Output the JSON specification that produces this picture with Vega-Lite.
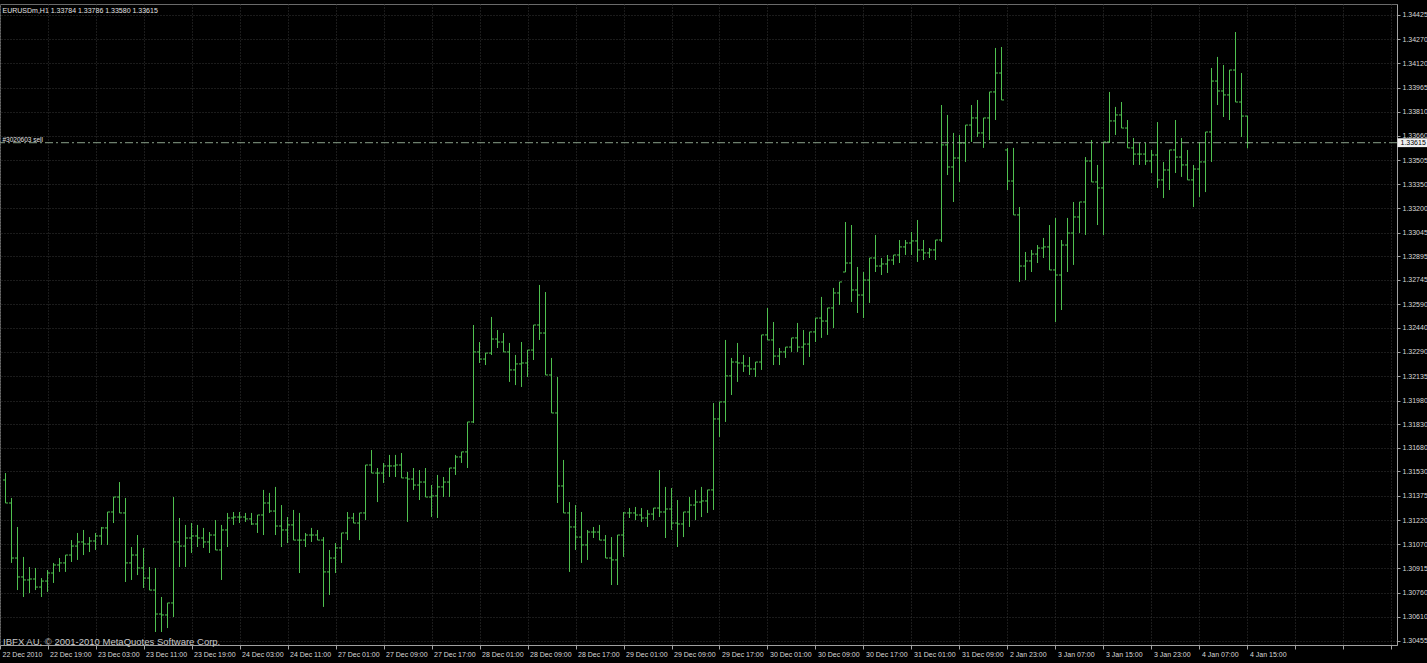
{
  "$schema": "https://vega.github.io/schema/vega-lite/v6.json",
  "width": 1397,
  "height": 641,
  "autosize": {"type": "none"},
  "padding": {"left": 0, "top": 4, "right": 30, "bottom": 18},
  "background": "#000000",
  "config": {
    "view": {"stroke": "#6a6a6a", "strokeWidth": 1},
    "axis": {
      "labelFont": "Liberation Sans",
      "labelFontSize": 7,
      "labelColor": "#d8d8d8",
      "domainColor": "#a0a0a0",
      "tickColor": "#a0a0a0",
      "gridColor": "#363636",
      "gridDash": [1, 2],
      "title": null
    }
  },
  "data": {
    "values": [
      {"i":0,"o":1.31476,"h":1.31520,"l":1.31330,"c":1.31330},
      {"i":1,"o":1.31330,"h":1.31362,"l":1.30950,"c":1.30981},
      {"i":2,"o":1.30981,"h":1.31178,"l":1.30778,"c":1.30861},
      {"i":3,"o":1.30861,"h":1.30988,"l":1.30734,"c":1.30842},
      {"i":4,"o":1.30842,"h":1.30924,"l":1.30759,"c":1.30848},
      {"i":5,"o":1.30848,"h":1.30918,"l":1.30778,"c":1.30797},
      {"i":6,"o":1.30797,"h":1.30854,"l":1.30734,"c":1.30835},
      {"i":7,"o":1.30835,"h":1.30905,"l":1.30766,"c":1.30886},
      {"i":8,"o":1.30886,"h":1.30950,"l":1.30823,"c":1.30937},
      {"i":9,"o":1.30937,"h":1.30981,"l":1.30893,"c":1.30950},
      {"i":10,"o":1.30950,"h":1.31000,"l":1.30893,"c":1.31000},
      {"i":11,"o":1.31000,"h":1.31095,"l":1.30956,"c":1.31057},
      {"i":12,"o":1.31057,"h":1.31140,"l":1.30969,"c":1.31083},
      {"i":13,"o":1.31083,"h":1.31159,"l":1.31000,"c":1.31070},
      {"i":14,"o":1.31070,"h":1.31114,"l":1.31019,"c":1.31089},
      {"i":15,"o":1.31089,"h":1.31140,"l":1.31032,"c":1.31121},
      {"i":16,"o":1.31121,"h":1.31178,"l":1.31064,"c":1.31172},
      {"i":17,"o":1.31172,"h":1.31273,"l":1.31064,"c":1.31273},
      {"i":18,"o":1.31273,"h":1.31368,"l":1.31203,"c":1.31368},
      {"i":19,"o":1.31368,"h":1.31463,"l":1.31267,"c":1.31267},
      {"i":20,"o":1.31267,"h":1.31362,"l":1.30829,"c":1.30950},
      {"i":21,"o":1.30950,"h":1.31051,"l":1.30842,"c":1.31000},
      {"i":22,"o":1.31000,"h":1.31127,"l":1.30873,"c":1.30918},
      {"i":23,"o":1.30918,"h":1.31045,"l":1.30791,"c":1.30854},
      {"i":24,"o":1.30854,"h":1.30924,"l":1.30778,"c":1.30778},
      {"i":25,"o":1.30778,"h":1.30918,"l":1.30512,"c":1.30626},
      {"i":26,"o":1.30626,"h":1.30734,"l":1.30512,"c":1.30620},
      {"i":27,"o":1.30620,"h":1.30696,"l":1.30537,"c":1.30696},
      {"i":28,"o":1.30696,"h":1.31368,"l":1.30607,"c":1.31083},
      {"i":29,"o":1.31083,"h":1.31235,"l":1.30924,"c":1.31057},
      {"i":30,"o":1.31057,"h":1.31191,"l":1.30924,"c":1.31108},
      {"i":31,"o":1.31108,"h":1.31203,"l":1.31013,"c":1.31121},
      {"i":32,"o":1.31121,"h":1.31191,"l":1.31051,"c":1.31108},
      {"i":33,"o":1.31108,"h":1.31172,"l":1.31045,"c":1.31083},
      {"i":34,"o":1.31083,"h":1.31146,"l":1.31013,"c":1.31127},
      {"i":35,"o":1.31127,"h":1.31222,"l":1.31032,"c":1.31032},
      {"i":36,"o":1.31032,"h":1.31191,"l":1.30842,"c":1.31159},
      {"i":37,"o":1.31159,"h":1.31267,"l":1.31051,"c":1.31235},
      {"i":38,"o":1.31235,"h":1.31273,"l":1.31191,"c":1.31241},
      {"i":39,"o":1.31241,"h":1.31273,"l":1.31203,"c":1.31241},
      {"i":40,"o":1.31241,"h":1.31267,"l":1.31210,"c":1.31229},
      {"i":41,"o":1.31229,"h":1.31267,"l":1.31191,"c":1.31197},
      {"i":42,"o":1.31197,"h":1.31254,"l":1.31140,"c":1.31254},
      {"i":43,"o":1.31254,"h":1.31413,"l":1.31127,"c":1.31330},
      {"i":44,"o":1.31330,"h":1.31394,"l":1.31267,"c":1.31279},
      {"i":45,"o":1.31279,"h":1.31432,"l":1.31127,"c":1.31184},
      {"i":46,"o":1.31184,"h":1.31317,"l":1.31051,"c":1.31159},
      {"i":47,"o":1.31159,"h":1.31241,"l":1.31076,"c":1.31191},
      {"i":48,"o":1.31191,"h":1.31286,"l":1.31095,"c":1.31095},
      {"i":49,"o":1.31095,"h":1.31267,"l":1.30886,"c":1.31095},
      {"i":50,"o":1.31095,"h":1.31140,"l":1.31051,"c":1.31127},
      {"i":51,"o":1.31127,"h":1.31172,"l":1.31083,"c":1.31127},
      {"i":52,"o":1.31127,"h":1.31159,"l":1.31095,"c":1.31095},
      {"i":53,"o":1.31095,"h":1.31114,"l":1.30671,"c":1.30893},
      {"i":54,"o":1.30893,"h":1.31032,"l":1.30747,"c":1.30981},
      {"i":55,"o":1.30981,"h":1.31076,"l":1.30886,"c":1.31045},
      {"i":56,"o":1.31045,"h":1.31140,"l":1.30950,"c":1.31140},
      {"i":57,"o":1.31140,"h":1.31273,"l":1.31095,"c":1.31235},
      {"i":58,"o":1.31235,"h":1.31267,"l":1.31203,"c":1.31203},
      {"i":59,"o":1.31203,"h":1.31267,"l":1.31095,"c":1.31267},
      {"i":60,"o":1.31267,"h":1.31571,"l":1.31222,"c":1.31571},
      {"i":61,"o":1.31571,"h":1.31666,"l":1.31520,"c":1.31520},
      {"i":62,"o":1.31520,"h":1.31552,"l":1.31336,"c":1.31520},
      {"i":63,"o":1.31520,"h":1.31584,"l":1.31457,"c":1.31565},
      {"i":64,"o":1.31565,"h":1.31635,"l":1.31495,"c":1.31565},
      {"i":65,"o":1.31565,"h":1.31635,"l":1.31495,"c":1.31571},
      {"i":66,"o":1.31571,"h":1.31647,"l":1.31489,"c":1.31489},
      {"i":67,"o":1.31489,"h":1.31527,"l":1.31210,"c":1.31482},
      {"i":68,"o":1.31482,"h":1.31552,"l":1.31413,"c":1.31444},
      {"i":69,"o":1.31444,"h":1.31539,"l":1.31349,"c":1.31463},
      {"i":70,"o":1.31463,"h":1.31552,"l":1.31368,"c":1.31368},
      {"i":71,"o":1.31368,"h":1.31444,"l":1.31241,"c":1.31375},
      {"i":72,"o":1.31375,"h":1.31508,"l":1.31235,"c":1.31432},
      {"i":73,"o":1.31432,"h":1.31495,"l":1.31368,"c":1.31463},
      {"i":74,"o":1.31463,"h":1.31552,"l":1.31368,"c":1.31552},
      {"i":75,"o":1.31552,"h":1.31635,"l":1.31508,"c":1.31622},
      {"i":76,"o":1.31622,"h":1.31654,"l":1.31584,"c":1.31654},
      {"i":77,"o":1.31654,"h":1.31844,"l":1.31552,"c":1.31844},
      {"i":78,"o":1.31844,"h":1.32459,"l":1.31837,"c":1.32288},
      {"i":79,"o":1.32288,"h":1.32351,"l":1.32218,"c":1.32243},
      {"i":80,"o":1.32243,"h":1.32281,"l":1.32205,"c":1.32281},
      {"i":81,"o":1.32281,"h":1.32510,"l":1.32269,"c":1.32370},
      {"i":82,"o":1.32370,"h":1.32427,"l":1.32313,"c":1.32351},
      {"i":83,"o":1.32351,"h":1.32408,"l":1.32288,"c":1.32288},
      {"i":84,"o":1.32288,"h":1.32345,"l":1.32098,"c":1.32174},
      {"i":85,"o":1.32174,"h":1.32269,"l":1.32078,"c":1.32212},
      {"i":86,"o":1.32212,"h":1.32351,"l":1.32066,"c":1.32218},
      {"i":87,"o":1.32218,"h":1.32300,"l":1.32129,"c":1.32300},
      {"i":88,"o":1.32300,"h":1.32459,"l":1.32237,"c":1.32459},
      {"i":89,"o":1.32459,"h":1.32713,"l":1.32364,"c":1.32408},
      {"i":90,"o":1.32408,"h":1.32668,"l":1.32142,"c":1.32142},
      {"i":91,"o":1.32142,"h":1.32250,"l":1.31901,"c":1.31901},
      {"i":92,"o":1.31901,"h":1.32129,"l":1.31330,"c":1.31438},
      {"i":93,"o":1.31438,"h":1.31603,"l":1.31267,"c":1.31267},
      {"i":94,"o":1.31267,"h":1.31336,"l":1.30893,"c":1.31178},
      {"i":95,"o":1.31178,"h":1.31317,"l":1.31032,"c":1.31114},
      {"i":96,"o":1.31114,"h":1.31273,"l":1.30950,"c":1.31064},
      {"i":97,"o":1.31064,"h":1.31159,"l":1.30969,"c":1.31146},
      {"i":98,"o":1.31146,"h":1.31178,"l":1.31108,"c":1.31146},
      {"i":99,"o":1.31146,"h":1.31191,"l":1.31095,"c":1.31095},
      {"i":100,"o":1.31095,"h":1.31127,"l":1.30981,"c":1.30981},
      {"i":101,"o":1.30981,"h":1.31114,"l":1.30810,"c":1.30969},
      {"i":102,"o":1.30969,"h":1.31127,"l":1.30810,"c":1.31127},
      {"i":103,"o":1.31127,"h":1.31273,"l":1.30988,"c":1.31267},
      {"i":104,"o":1.31267,"h":1.31298,"l":1.31235,"c":1.31267},
      {"i":105,"o":1.31267,"h":1.31305,"l":1.31222,"c":1.31254},
      {"i":106,"o":1.31254,"h":1.31298,"l":1.31210,"c":1.31235},
      {"i":107,"o":1.31235,"h":1.31286,"l":1.31178,"c":1.31260},
      {"i":108,"o":1.31260,"h":1.31298,"l":1.31222,"c":1.31298},
      {"i":109,"o":1.31298,"h":1.31539,"l":1.31241,"c":1.31273},
      {"i":110,"o":1.31273,"h":1.31432,"l":1.31108,"c":1.31292},
      {"i":111,"o":1.31292,"h":1.31425,"l":1.31159,"c":1.31203},
      {"i":112,"o":1.31203,"h":1.31349,"l":1.31051,"c":1.31197},
      {"i":113,"o":1.31197,"h":1.31273,"l":1.31114,"c":1.31273},
      {"i":114,"o":1.31273,"h":1.31368,"l":1.31178,"c":1.31317},
      {"i":115,"o":1.31317,"h":1.31413,"l":1.31222,"c":1.31336},
      {"i":116,"o":1.31336,"h":1.31432,"l":1.31241,"c":1.31343},
      {"i":117,"o":1.31343,"h":1.31413,"l":1.31267,"c":1.31413},
      {"i":118,"o":1.31413,"h":1.31964,"l":1.31286,"c":1.31863},
      {"i":119,"o":1.31863,"h":1.31971,"l":1.31749,"c":1.31971},
      {"i":120,"o":1.31971,"h":1.32364,"l":1.31844,"c":1.32136},
      {"i":121,"o":1.32136,"h":1.32250,"l":1.32015,"c":1.32224},
      {"i":122,"o":1.32224,"h":1.32345,"l":1.32098,"c":1.32218},
      {"i":123,"o":1.32218,"h":1.32269,"l":1.32161,"c":1.32199},
      {"i":124,"o":1.32199,"h":1.32256,"l":1.32142,"c":1.32180},
      {"i":125,"o":1.32180,"h":1.32224,"l":1.32129,"c":1.32224},
      {"i":126,"o":1.32224,"h":1.32396,"l":1.32174,"c":1.32396},
      {"i":127,"o":1.32396,"h":1.32567,"l":1.32364,"c":1.32364},
      {"i":128,"o":1.32364,"h":1.32478,"l":1.32205,"c":1.32262},
      {"i":129,"o":1.32262,"h":1.32313,"l":1.32205,"c":1.32288},
      {"i":130,"o":1.32288,"h":1.32319,"l":1.32250,"c":1.32319},
      {"i":131,"o":1.32319,"h":1.32377,"l":1.32288,"c":1.32377},
      {"i":132,"o":1.32377,"h":1.32472,"l":1.32288,"c":1.32319},
      {"i":133,"o":1.32319,"h":1.32427,"l":1.32205,"c":1.32338},
      {"i":134,"o":1.32338,"h":1.32415,"l":1.32256,"c":1.32415},
      {"i":135,"o":1.32415,"h":1.32503,"l":1.32351,"c":1.32503},
      {"i":136,"o":1.32503,"h":1.32637,"l":1.32377,"c":1.32484},
      {"i":137,"o":1.32484,"h":1.32567,"l":1.32396,"c":1.32567},
      {"i":138,"o":1.32567,"h":1.32694,"l":1.32440,"c":1.32662},
      {"i":139,"o":1.32662,"h":1.32732,"l":1.32586,"c":1.32732},
      {"i":140,"o":1.32795,"h":1.33112,"l":1.32795,"c":1.32852},
      {"i":141,"o":1.32852,"h":1.33093,"l":1.32605,"c":1.32681},
      {"i":142,"o":1.32681,"h":1.32827,"l":1.32535,"c":1.32649},
      {"i":143,"o":1.32649,"h":1.32795,"l":1.32503,"c":1.32744},
      {"i":144,"o":1.32744,"h":1.32884,"l":1.32599,"c":1.32884},
      {"i":145,"o":1.32884,"h":1.33030,"l":1.32795,"c":1.32833},
      {"i":146,"o":1.32833,"h":1.32884,"l":1.32776,"c":1.32846},
      {"i":147,"o":1.32846,"h":1.32903,"l":1.32789,"c":1.32871},
      {"i":148,"o":1.32871,"h":1.32903,"l":1.32840,"c":1.32903},
      {"i":149,"o":1.32903,"h":1.32998,"l":1.32852,"c":1.32954},
      {"i":150,"o":1.32954,"h":1.32998,"l":1.32903,"c":1.32979},
      {"i":151,"o":1.32979,"h":1.33049,"l":1.32903,"c":1.32992},
      {"i":152,"o":1.32992,"h":1.33125,"l":1.32859,"c":1.32935},
      {"i":153,"o":1.32935,"h":1.32998,"l":1.32871,"c":1.32916},
      {"i":154,"o":1.32916,"h":1.32947,"l":1.32884,"c":1.32935},
      {"i":155,"o":1.32935,"h":1.32998,"l":1.32871,"c":1.32998},
      {"i":156,"o":1.32998,"h":1.33854,"l":1.32985,"c":1.33601},
      {"i":157,"o":1.33601,"h":1.33791,"l":1.33410,"c":1.33461},
      {"i":158,"o":1.33461,"h":1.33677,"l":1.33239,"c":1.33518},
      {"i":159,"o":1.33518,"h":1.33664,"l":1.33366,"c":1.33613},
      {"i":160,"o":1.33613,"h":1.33727,"l":1.33493,"c":1.33727},
      {"i":161,"o":1.33727,"h":1.33854,"l":1.33620,"c":1.33772},
      {"i":162,"o":1.33772,"h":1.33886,"l":1.33651,"c":1.33677},
      {"i":163,"o":1.33677,"h":1.33772,"l":1.33582,"c":1.33772},
      {"i":164,"o":1.33772,"h":1.33937,"l":1.33632,"c":1.33937},
      {"i":165,"o":1.33937,"h":1.34216,"l":1.33759,"c":1.34057},
      {"i":166,"o":1.34057,"h":1.34222,"l":1.33886,"c":1.33886},
      {"i":167,"o":1.33569,"h":1.33582,"l":1.33315,"c":1.33372},
      {"i":168,"o":1.33372,"h":1.33582,"l":1.33157,"c":1.33157},
      {"i":169,"o":1.33157,"h":1.33207,"l":1.32732,"c":1.32833},
      {"i":170,"o":1.32833,"h":1.32922,"l":1.32744,"c":1.32865},
      {"i":171,"o":1.32865,"h":1.32935,"l":1.32795,"c":1.32909},
      {"i":172,"o":1.32909,"h":1.32966,"l":1.32852,"c":1.32947},
      {"i":173,"o":1.32947,"h":1.33011,"l":1.32884,"c":1.32954},
      {"i":174,"o":1.32954,"h":1.33093,"l":1.32808,"c":1.32808},
      {"i":175,"o":1.32808,"h":1.33138,"l":1.32478,"c":1.32776},
      {"i":176,"o":1.32776,"h":1.32998,"l":1.32554,"c":1.32966},
      {"i":177,"o":1.32966,"h":1.33138,"l":1.32795,"c":1.33042},
      {"i":178,"o":1.33042,"h":1.33239,"l":1.32840,"c":1.33144},
      {"i":179,"o":1.33144,"h":1.33239,"l":1.33042,"c":1.33239},
      {"i":180,"o":1.33239,"h":1.33524,"l":1.33030,"c":1.33499},
      {"i":181,"o":1.33499,"h":1.33632,"l":1.33366,"c":1.33366},
      {"i":182,"o":1.33366,"h":1.33474,"l":1.33093,"c":1.33328},
      {"i":183,"o":1.33328,"h":1.33620,"l":1.33030,"c":1.33620},
      {"i":184,"o":1.33620,"h":1.33937,"l":1.33613,"c":1.33753},
      {"i":185,"o":1.33753,"h":1.33842,"l":1.33664,"c":1.33791},
      {"i":186,"o":1.33791,"h":1.33873,"l":1.33708,"c":1.33708},
      {"i":187,"o":1.33708,"h":1.33759,"l":1.33582,"c":1.33582},
      {"i":188,"o":1.33582,"h":1.33645,"l":1.33474,"c":1.33543},
      {"i":189,"o":1.33543,"h":1.33613,"l":1.33474,"c":1.33543},
      {"i":190,"o":1.33543,"h":1.33613,"l":1.33474,"c":1.33499},
      {"i":191,"o":1.33499,"h":1.33569,"l":1.33423,"c":1.33537},
      {"i":192,"o":1.33537,"h":1.33746,"l":1.33328,"c":1.33379},
      {"i":193,"o":1.33379,"h":1.33493,"l":1.33264,"c":1.33442},
      {"i":194,"o":1.33442,"h":1.33569,"l":1.33315,"c":1.33569},
      {"i":195,"o":1.33569,"h":1.33759,"l":1.33423,"c":1.33524},
      {"i":196,"o":1.33524,"h":1.33645,"l":1.33398,"c":1.33474},
      {"i":197,"o":1.33474,"h":1.33569,"l":1.33379,"c":1.33379},
      {"i":198,"o":1.33379,"h":1.33474,"l":1.33207,"c":1.33448},
      {"i":199,"o":1.33448,"h":1.33620,"l":1.33271,"c":1.33493},
      {"i":200,"o":1.33493,"h":1.33683,"l":1.33302,"c":1.33683},
      {"i":201,"o":1.33683,"h":1.34089,"l":1.33493,"c":1.34006},
      {"i":202,"o":1.34006,"h":1.34159,"l":1.33854,"c":1.33943},
      {"i":203,"o":1.33943,"h":1.34108,"l":1.33778,"c":1.33918},
      {"i":204,"o":1.33918,"h":1.34076,"l":1.33759,"c":1.34076},
      {"i":205,"o":1.34076,"h":1.34317,"l":1.33873,"c":1.33873},
      {"i":206,"o":1.33873,"h":1.34057,"l":1.33651,"c":1.33784},
      {"i":207,"o":1.33784,"h":1.33786,"l":1.33580,"c":1.33615}
    ]
  },
  "layer": [
    {
      "mark": {"type": "rule", "color": "#4fc04f", "strokeWidth": 1},
      "encoding": {
        "x": {
          "field": "i",
          "type": "quantitative",
          "scale": {"domain": [-0.91667, 231.91667], "nice": false, "zero": false},
          "axis": {
            "orient": "bottom",
            "values": [-0.9, 7, 15, 23, 31, 39, 47, 55, 63, 71, 79, 87, 95, 103, 111, 119, 127, 135, 143, 151, 159, 167, 175, 183, 191, 199, 207, 215, 223, 231],
            "tickCount": 200,
            "labelExpr": "datum.value < 0 ? '22 Dec 2010' : (datum.value > 207 ? '' : ['22 Dec 2010','22 Dec 19:00','23 Dec 03:00','23 Dec 11:00','23 Dec 19:00','24 Dec 03:00','24 Dec 11:00','27 Dec 01:00','27 Dec 09:00','27 Dec 17:00','28 Dec 01:00','28 Dec 09:00','28 Dec 17:00','29 Dec 01:00','29 Dec 09:00','29 Dec 17:00','30 Dec 01:00','30 Dec 09:00','30 Dec 17:00','31 Dec 01:00','31 Dec 09:00','2 Jan 23:00','3 Jan 07:00','3 Jan 15:00','3 Jan 23:00','4 Jan 07:00','4 Jan 15:00'][(datum.value + 1) / 8])",
            "labelAlign": "left",
            "labelOffset": 2,
            "labelPadding": 1,
            "tickSize": 4,
            "grid": true,
            "labelOverlap": false,
            "labelBound": false,
            "labelFlush": false
          }
        },
        "y": {
          "field": "l",
          "type": "quantitative",
          "scale": {"domain": [1.304295, 1.344947], "nice": false, "zero": false},
          "axis": {
            "orient": "right",
            "values": [1.34425, 1.3427, 1.3412, 1.33965, 1.3381, 1.3366, 1.33505, 1.3335, 1.332, 1.33045, 1.32895, 1.32745, 1.3259, 1.3244, 1.3229, 1.32135, 1.3198, 1.3183, 1.3168, 1.3153, 1.31375, 1.3122, 1.3107, 1.30915, 1.3076, 1.3061, 1.30455],
            "tickCount": 200,
            "format": ".5f",
            "tickSize": 3,
            "labelPadding": 2,
            "grid": true,
            "labelOverlap": false,
            "labelBound": false,
            "labelFlush": false
          }
        },
        "y2": {"field": "h"}
      }
    },
    {
      "mark": {"type": "rule", "color": "#4fc04f", "strokeWidth": 1, "xOffset": -2.5, "x2Offset": 0},
      "encoding": {
        "x": {"field": "i", "type": "quantitative"},
        "x2": {"field": "i"},
        "y": {"field": "o", "type": "quantitative"}
      }
    },
    {
      "mark": {"type": "rule", "color": "#4fc04f", "strokeWidth": 1, "xOffset": 0, "x2Offset": 2.5},
      "encoding": {
        "x": {"field": "i", "type": "quantitative"},
        "x2": {"field": "i"},
        "y": {"field": "c", "type": "quantitative"}
      }
    },
    {
      "data": {"values": [{"p": 1.33615}]},
      "mark": {"type": "rule", "color": "#8aa08a", "strokeWidth": 1, "strokeDash": [8, 3, 2, 3]},
      "encoding": {
        "y": {"field": "p", "type": "quantitative"}
      }
    },
    {
      "data": {"values": [{"label": "#3020603 sell"}]},
      "mark": {"type": "text", "align": "left", "baseline": "bottom", "font": "Liberation Sans", "fontSize": 6.5, "color": "#e0e0e0"},
      "encoding": {
        "x": {"datum": -0.5, "type": "quantitative"},
        "y": {"datum": 1.33615, "type": "quantitative"},
        "text": {"field": "label"}
      }
    },
    {
      "data": {"values": [{"label": "EURUSDm,H1  1.33784 1.33786 1.33580 1.33615"}]},
      "mark": {"type": "text", "align": "left", "baseline": "alphabetic", "font": "Liberation Sans", "fontSize": 7, "color": "#e0e0e0"},
      "encoding": {
        "x": {"datum": -0.5, "type": "quantitative"},
        "y": {"datum": 1.34438, "type": "quantitative"},
        "text": {"field": "label"}
      }
    },
    {
      "data": {"values": [{"label": "IBFX AU, © 2001-2010 MetaQuotes Software Corp."}]},
      "mark": {"type": "text", "align": "left", "baseline": "alphabetic", "font": "Liberation Sans", "fontSize": 9.5, "color": "#c8c8c8"},
      "encoding": {
        "x": {"datum": -0.4, "type": "quantitative"},
        "y": {"datum": 1.30428, "type": "quantitative"},
        "text": {"field": "label"}
      }
    },
    {
      "data": {"values": [{"label": "1.33615"}]},
      "mark": {"type": "rect", "color": "#f0f0f0"},
      "encoding": {
        "x": {"datum": 232.0, "type": "quantitative"},
        "x2": {"datum": 237.0},
        "y": {"datum": 1.33643, "type": "quantitative"},
        "y2": {"datum": 1.33587}
      }
    },
    {
      "data": {"values": [{"label": "1.33615"}]},
      "mark": {"type": "text", "align": "left", "baseline": "middle", "font": "Liberation Sans", "fontSize": 7, "color": "#000000"},
      "encoding": {
        "x": {"datum": 232.5, "type": "quantitative"},
        "y": {"datum": 1.33615, "type": "quantitative"},
        "text": {"field": "label"}
      }
    }
  ]
}
